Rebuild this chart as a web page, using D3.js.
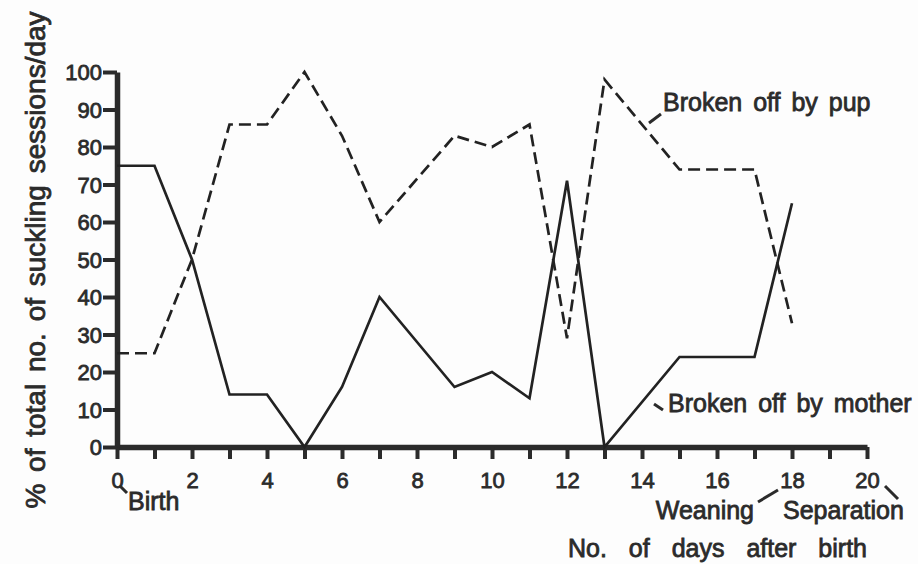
<!DOCTYPE html>
<html>
<head>
<meta charset="utf-8">
<script src="https://cdn.jsdelivr.net/npm/d3@7"></script>
<style>
  body { margin: 0; background: #fdfdfd; }
  svg text { font-family: "Liberation Sans", Arial, sans-serif; fill: #2b2b2b; stroke: #2b2b2b; stroke-width: 0.8px; }
  .tick text { font-size: 22px; }
  .lbl { font-size: 25px; word-spacing: 4px; }
</style>
</head>
<body>
<div id="chart"></div>
<script>
// days with a reading (8 and 14 have none, lines just run through)
var days   = [0, 1, 2, 3, 4, 5, 6, 7, 9, 10, 11, 12, 13, 15, 16, 17, 18];
var mother = [75, 75, 50, 14, 14, 0, 16, 40, 16, 20, 13, 71, 0, 24, 24, 24, 65];
var pup    = [25, 25, 50, 86, 86, 100, 83, 60, 83, 80, 86, 29, 98, 74, 74, 74, 33];

var xTicks = d3.range(0, 21);
var yTicks = [0, 10, 20, 30, 40, 50, 60, 70, 80, 90, 100];

var width = 918, height = 564;

var svg = d3.select("#chart")
  .append("svg")
    .attr("width", width)
    .attr("height", height);

var x = d3.scaleLinear()
    .domain([0, 20])
    .range([117, 867]);

var y = d3.scaleLinear()
    .domain([0, 100])
    .range([447, 72]);

// x axis
var xAxis = svg.append("g")
    .attr("transform", "translate(0," + y(0) + ")")
    .call(d3.axisBottom(x)
      .tickValues(xTicks)
      .tickSize(12)
      .tickSizeOuter(0)
      .tickPadding(13)
      .tickFormat(function(d){ return d % 2 === 0 ? d : ""; }));

// y axis
var yAxis = svg.append("g")
    .attr("transform", "translate(" + x(0) + ",0)")
    .call(d3.axisLeft(y)
      .tickValues(yTicks)
      .tickSize(14)
      .tickSizeOuter(0)
      .tickPadding(1));

svg.selectAll(".domain")
    .style("stroke", "#2b2b2b")
    .style("stroke-width", 5.5);
svg.selectAll(".tick line")
    .style("stroke", "#2b2b2b")
    .style("stroke-width", 4);
yAxis.selectAll(".tick text").attr("dy", "0.36em");

// lines
var pts = function(vals){
  return days.map(function(d, i){ return [d, vals[i]]; });
};

var line = d3.line()
    .x(function(d){ return x(d[0]); })
    .y(function(d){ return y(d[1]); });

svg.append("path")
    .datum(pts(mother))
    .attr("d", line)
    .attr("fill", "none")
    .attr("stroke", "#222")
    .attr("stroke-width", 2.7);

svg.append("path")
    .datum(pts(pup))
    .attr("d", line)
    .attr("fill", "none")
    .attr("stroke", "#222")
    .attr("stroke-width", 2.7)
    .attr("stroke-dasharray", "12,6");

// labels and leaders
var labels = svg.append("g").classed("labels", true);

var note = function(txt, tx, ty, x1, y1, x2, y2, anchor){
  labels.append("text")
    .classed("lbl", true)
    .attr("x", tx)
    .attr("y", ty)
    .attr("text-anchor", anchor || "start")
    .text(txt);
  labels.append("line")
    .attr("x1", x1).attr("y1", y1)
    .attr("x2", x2).attr("y2", y2)
    .attr("stroke", "#2b2b2b")
    .attr("stroke-width", 3);
};

note("Broken off by pup", 663, 111, 649, 123, 661, 114);
note("Broken off by mother", 668, 412, 654, 404, 663, 410);
note("Birth", 128, 510, 120, 486, 127, 493);
note("Weaning", 754, 519, 758, 502, 778, 490, "end");
note("Separation", 783, 519, 885, 486, 898, 499);

labels.append("text")
    .classed("lbl", true)
    .style("word-spacing", "15px")
    .attr("x", 568)
    .attr("y", 557)
    .text("No. of days after birth");

labels.append("g")
    .attr("transform", "translate(45,260)")
  .append("text")
    .classed("lbl", true)
    .style("font-size", "28px")
    .attr("text-anchor", "middle")
    .attr("transform", "rotate(-90)")
    .text("% of total no. of suckling sessions/day");
</script>
</body>
</html>
